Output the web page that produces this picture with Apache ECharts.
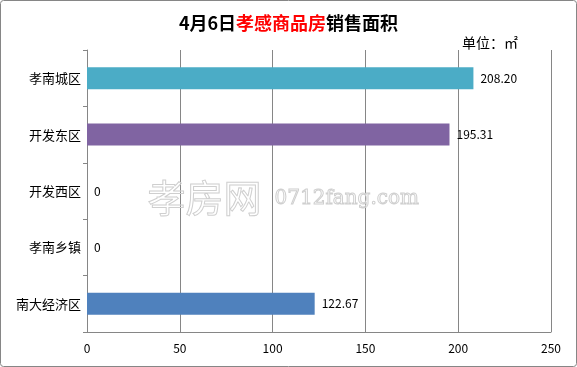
<!DOCTYPE html>
<html><head><meta charset="utf-8">
<script src="https://cdn.jsdelivr.net/npm/echarts@6/dist/echarts.min.js"></script>
<style>html,body{margin:0;padding:0;background:#fff}#c{width:577px;height:367px}</style>
</head><body><div id="c"></div>
<script>
var categories = ['孝南城区','开发东区','开发西区','孝南乡镇','南大经济区'];
var values = [208.20, 195.31, 0, 0, 122.67];
var colors = ['#4BACC6','#8064A2','#4BACC6','#4BACC6','#4F81BD'];
var xTicks = [0, 50, 100, 150, 200, 250];

var chart = echarts.init(document.getElementById('c'));
var font = '"Noto Sans CJK SC", "Noto Sans", sans-serif';
chart.setOption({
  animation: false,
  backgroundColor: '#fff',
  title: {
    text: '{b|4月6日}{r|孝感商品房}{b|销售面积}',
    left: 'center', top: 9,
    textStyle: {
      rich: {
        b: {fontSize: 18, fontWeight: 'bold', color: '#000', fontFamily: font},
        r: {fontSize: 18, fontWeight: 'bold', color: '#FF0000', fontFamily: font}
      }
    }
  },
  grid: {left: 87, right: 26, top: 50, bottom: 35, containLabel: false},
  xAxis: {
    type: 'value', min: xTicks[0], max: xTicks[xTicks.length-1], interval: 50,
    axisLine: {show: true, lineStyle: {color: '#868686'}},
    axisTick: {show: false},
    splitLine: {show: true, lineStyle: {color: '#868686', width: 1}},
    axisLabel: {color: '#000', fontSize: 12, fontFamily: font, margin: 10}
  },
  yAxis: {
    type: 'category', data: categories, inverse: true,
    axisLine: {show: true, lineStyle: {color: '#868686'}},
    axisTick: {show: true, length: 4, lineStyle: {color: '#868686'}},
    axisLabel: {color: '#000', fontSize: 13, fontFamily: font, margin: 6}
  },
  series: [{
    type: 'bar', barWidth: 22,
    data: values.map(function(v,i){return {value: v, itemStyle: {color: colors[i]}};}),
    label: {
      show: true, position: 'right', distance: 7, color: '#000', fontSize: 12, fontFamily: font,
      formatter: function(p){ return p.value === 0 ? '0' : p.value.toFixed(2); }
    }
  }],
  graphic: [
    {type: 'rect', shape: {x: 0.5, y: 0.5, width: 576, height: 366, r: 3}, style: {fill: 'none', stroke: '#868686', lineWidth: 1}, z: 100},
    {type: 'text', left: 462, top: 36, style: {text: '单位：㎡', fill: '#000', font: '14px ' + font}},
    {type: 'text', left: 147, top: 178, z: 50, style: {text: '孝房网', font: '38px ' + font, fill: 'rgba(255,255,255,0)', stroke: '#cfcfcf', lineWidth: 1}},
    {type: 'text', left: 274, top: 188, z: 50, style: {text: '0712fang.com', font: '20px "DejaVu Serif", serif', fill: 'rgba(255,255,255,0)', stroke: '#cfcfcf', lineWidth: 1}}
  ]
});
</script></body></html>
